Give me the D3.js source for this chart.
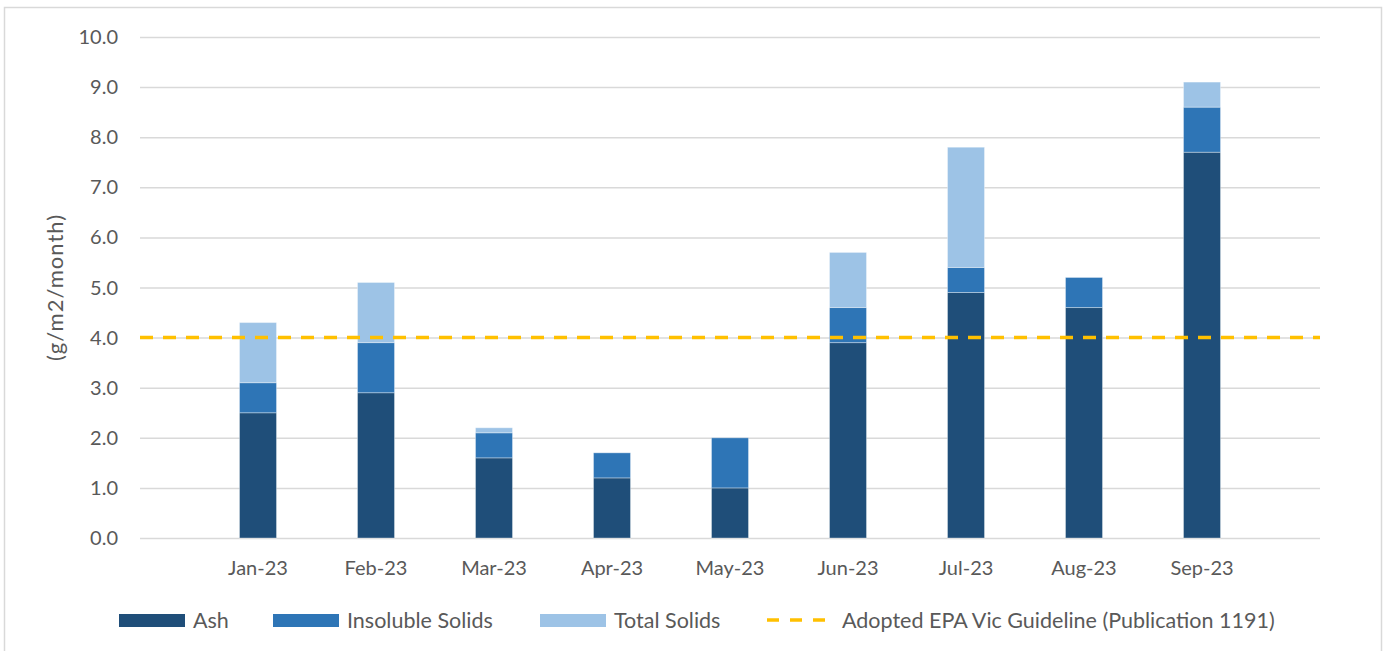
<html>
<head>
    <script src="https://d3js.org/d3.v7.min.js"></script>
    <style>
        body { margin: 0; background: #fff; }
        text { font-family: Lato, "Open Sans", sans-serif; fill: #595959; }
        .gridlines .domain { display: none; }
        .gridlines line { stroke: #d9d9d9; stroke-width: 1.5px; }
    </style>
</head>
<body>
    <svg id="chart" width="1387" height="651"></svg>
    <script>
        // data (segment heights, stacked)
        const months = ["Jan-23", "Feb-23", "Mar-23", "Apr-23", "May-23", "Jun-23", "Jul-23", "Aug-23", "Sep-23"];
        const ash = [2.5, 2.9, 1.6, 1.2, 1.0, 3.9, 4.9, 4.6, 7.7];
        const insoluble = [0.6, 1.0, 0.5, 0.5, 1.0, 0.7, 0.5, 0.6, 0.9];
        const totalSolids = [1.2, 1.2, 0.1, 0, 0, 1.1, 2.4, 0, 0.5];
        const guideline = 4.0;
        const yTicks = [0, 1, 2, 3, 4, 5, 6, 7, 8, 9, 10];

        const seriesNames = ["Ash", "Insoluble Solids", "Total Solids"];
        const colors = ["#1f4e79", "#2e75b6", "#9dc3e6"];

        const svg = d3.select("#chart");
        const margin = { top: 37, right: 67, bottom: 113, left: 140 };
        const width = 1387 - margin.left - margin.right;
        const height = 651 - margin.top - margin.bottom;

        // outer frame
        svg.append("rect")
            .attr("x", 4.5).attr("y", 7.5)
            .attr("width", 1377).attr("height", 660)
            .attr("fill", "none")
            .attr("stroke", "#d9d9d9")
            .attr("stroke-width", 1.5);

        const chart = svg.append("g")
            .attr("transform", `translate(${margin.left},${margin.top})`);

        const x = d3.scalePoint().domain(months).range([0, width]).padding(1);
        const y = d3.scaleLinear().domain([0, 10]).range([height, 0]);
        const barWidth = 37;

        // gridlines
        chart.append("g")
            .attr("class", "gridlines")
            .call(d3.axisLeft(y).tickValues(yTicks).tickSize(-width).tickFormat(""));

        // y labels
        chart.append("g")
            .selectAll("text").data(yTicks)
            .join("text")
            .attr("x", -22)
            .attr("y", d => y(d))
            .attr("dy", "0.35em")
            .attr("text-anchor", "end")
            .attr("font-size", 20)
            .text(d => d.toFixed(1));

        // x labels
        chart.append("g")
            .selectAll("text").data(months)
            .join("text")
            .attr("x", d => x(d))
            .attr("y", height + 30)
            .attr("dy", "0.35em")
            .attr("text-anchor", "middle")
            .attr("font-size", 20)
            .text(d => d);

        // axis title
        chart.append("text")
            .attr("transform", `translate(-85,${height / 2}) rotate(-90)`)
            .attr("text-anchor", "middle")
            .attr("dy", "0.35em")
            .attr("font-size", 22)
            .attr("letter-spacing", 1)
            .text("(g/m2/month)");

        // stacked bars
        const table = months.map((m, i) => ({ month: m, "Ash": ash[i], "Insoluble Solids": insoluble[i], "Total Solids": totalSolids[i] }));
        const stacked = d3.stack().keys(seriesNames)(table);

        chart.selectAll("g.series").data(stacked)
            .join("g")
            .attr("class", "series")
            .attr("fill", (d, i) => colors[i])
            .selectAll("rect")
            .data(d => d.filter(s => s[1] - s[0] > 0))
            .join("rect")
            .attr("x", d => x(d.data.month) - barWidth / 2)
            .attr("y", d => y(d[1]))
            .attr("width", barWidth)
            .attr("height", d => y(d[0]) - y(d[1]))
            .attr("stroke", "#ffffff")
            .attr("stroke-opacity", 0.35)
            .attr("stroke-width", 1);

        // guideline
        chart.append("line")
            .attr("x1", 0).attr("x2", width)
            .attr("y1", y(guideline)).attr("y2", y(guideline))
            .attr("stroke", "#ffc000")
            .attr("stroke-width", 3.5)
            .attr("stroke-dasharray", "13,10");

        // legend
        const legend = svg.append("g").attr("transform", "translate(0,620)");
        const swatchX = [119, 273, 540];
        seriesNames.forEach((name, i) => {
            legend.append("rect")
                .attr("x", swatchX[i]).attr("y", -6)
                .attr("width", 66).attr("height", 13)
                .attr("fill", colors[i]);
            legend.append("text")
                .attr("x", swatchX[i] + 74).attr("y", 0)
                .attr("dy", "0.35em")
                .attr("font-size", 21.5)
                .text(name);
        });
        legend.append("line")
            .attr("x1", 767).attr("x2", 826)
            .attr("y1", 0).attr("y2", 0)
            .attr("stroke", "#ffc000")
            .attr("stroke-width", 3.5)
            .attr("stroke-dasharray", "12,11");
        legend.append("text")
            .attr("x", 842).attr("y", 0)
            .attr("dy", "0.35em")
            .attr("font-size", 21.5)
            .text("Adopted EPA Vic Guideline (Publication 1191)");
    </script>
</body>
</html>
